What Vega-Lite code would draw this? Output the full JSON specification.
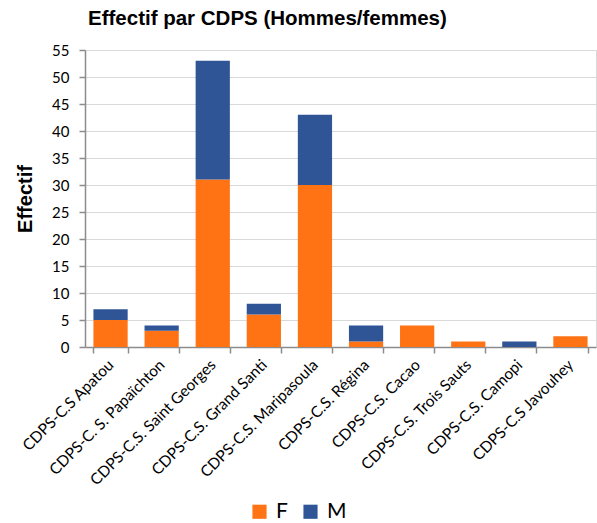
{
  "$schema": "https://vega.github.io/schema/vega-lite/v6.json",
  "autosize": {"type": "none"},
  "padding": {"left": 85, "top": 50, "right": 1, "bottom": 176},
  "width": 511,
  "height": 297,
  "background": "white",
  "title": {
    "text": "Effectif par CDPS (Hommes/femmes)",
    "font": "Liberation Sans",
    "fontSize": 20.5,
    "fontWeight": "bold",
    "color": "#000000",
    "anchor": "start",
    "frame": "group",
    "dx": 3,
    "offset": 14
  },
  "config": {
    "view": {"stroke": "#d9d9d9", "strokeWidth": 1},
    "axis": {"labelFont": "Lato", "titleFont": "Liberation Sans"}
  },
  "data": {
    "values": [
      {"cdps": "CDPS-C.S Apatou", "sexe": "F", "effectif": 5},
      {"cdps": "CDPS-C.S Apatou", "sexe": "M", "effectif": 2},
      {"cdps": "CDPS-C. S. Papaïchton", "sexe": "F", "effectif": 3},
      {"cdps": "CDPS-C. S. Papaïchton", "sexe": "M", "effectif": 1},
      {"cdps": "CDPS-C.S. Saint Georges", "sexe": "F", "effectif": 31},
      {"cdps": "CDPS-C.S. Saint Georges", "sexe": "M", "effectif": 22},
      {"cdps": "CDPS-C.S. Grand Santi", "sexe": "F", "effectif": 6},
      {"cdps": "CDPS-C.S. Grand Santi", "sexe": "M", "effectif": 2},
      {"cdps": "CDPS-C.S. Maripasoula", "sexe": "F", "effectif": 30},
      {"cdps": "CDPS-C.S. Maripasoula", "sexe": "M", "effectif": 13},
      {"cdps": "CDPS-C.S. Régina", "sexe": "F", "effectif": 1},
      {"cdps": "CDPS-C.S. Régina", "sexe": "M", "effectif": 3},
      {"cdps": "CDPS-C.S. Cacao", "sexe": "F", "effectif": 4},
      {"cdps": "CDPS-C.S. Cacao", "sexe": "M", "effectif": 0},
      {"cdps": "CDPS-C.S. Trois Sauts", "sexe": "F", "effectif": 1},
      {"cdps": "CDPS-C.S. Trois Sauts", "sexe": "M", "effectif": 0},
      {"cdps": "CDPS-C.S. Camopi", "sexe": "F", "effectif": 0},
      {"cdps": "CDPS-C.S. Camopi", "sexe": "M", "effectif": 1},
      {"cdps": "CDPS-C.S Javouhey", "sexe": "F", "effectif": 2},
      {"cdps": "CDPS-C.S Javouhey", "sexe": "M", "effectif": 0}
    ]
  },
  "mark": {"type": "bar"},
  "encoding": {
    "x": {
      "field": "cdps",
      "type": "nominal",
      "sort": null,
      "scale": {"paddingInner": 0.33, "paddingOuter": 0.165},
      "axis": {
        "title": null,
        "labelAngle": -45,
        "labelAlign": "right",
        "labelBaseline": "middle",
        "labelFontSize": 15.5,
        "labelColor": "#000000",
        "labelPadding": 9,
        "tickBand": "extent",
        "tickSize": 6,
        "tickColor": "#8c8c8c",
        "tickWidth": 1.5,
        "domainColor": "#8c8c8c",
        "domainWidth": 1.5
      }
    },
    "y": {
      "field": "effectif",
      "type": "quantitative",
      "stack": "zero",
      "scale": {"domain": [0, 55], "nice": false},
      "axis": {
        "title": "Effectif",
        "titleFontSize": 20,
        "titleFontWeight": "bold",
        "titleColor": "#000000",
        "titlePadding": 16,
        "values": [0, 5, 10, 15, 20, 25, 30, 35, 40, 45, 50, 55],
        "labelFontSize": 15,
        "labelColor": "#000000",
        "labelPadding": 10,
        "tickSize": 6,
        "tickColor": "#8c8c8c",
        "tickWidth": 1.5,
        "domainColor": "#8c8c8c",
        "domainWidth": 1.5,
        "gridColor": "#d9d9d9",
        "gridWidth": 1
      }
    },
    "color": {
      "field": "sexe",
      "type": "nominal",
      "scale": {"domain": ["F", "M"], "range": ["#ff7315", "#2f5597"]},
      "legend": {
        "title": null,
        "orient": "none",
        "legendX": 164,
        "legendY": 451,
        "direction": "horizontal",
        "symbolType": "square",
        "symbolSize": 200,
        "symbolStrokeWidth": 0,
        "labelFont": "Lato",
        "labelFontSize": 21,
        "labelColor": "#000000",
        "labelOffset": 6,
        "columnPadding": 12
      }
    },
    "order": {"field": "sexe", "sort": "ascending"}
  }
}
